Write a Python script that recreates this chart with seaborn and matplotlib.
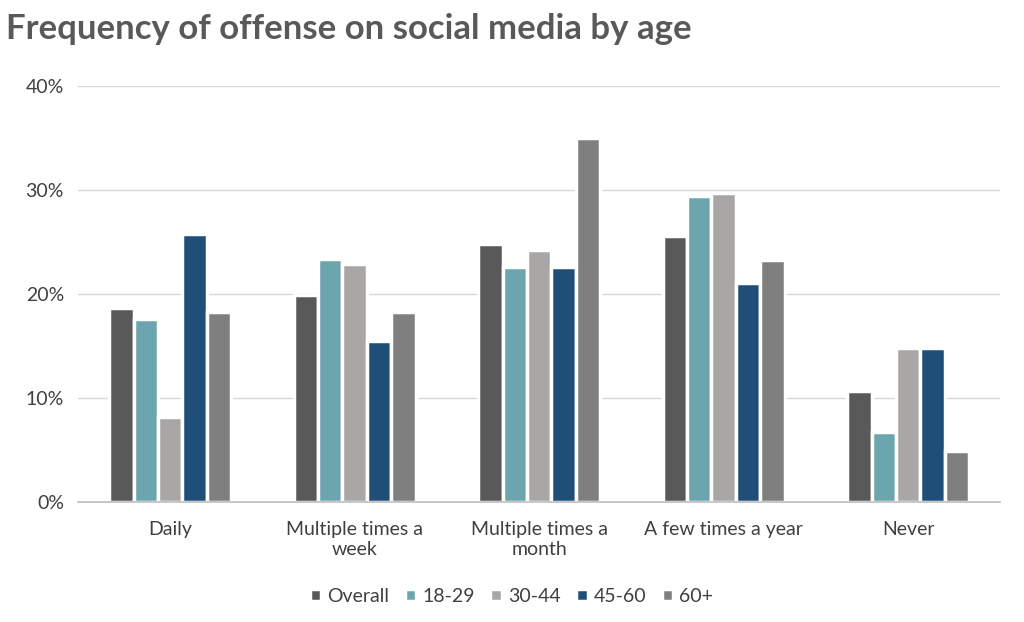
import seaborn as sns
import matplotlib.pyplot as plt
import pandas as pd

categories = ['Daily', 'Multiple times a\nweek', 'Multiple times a\nmonth', 'A few times a year', 'Never']
groups = ['Overall', '18-29', '30-44', '45-60', '60+']
overall = [18.6, 19.9, 24.8, 25.6, 10.7]
age_18_29 = [17.6, 23.4, 22.6, 29.4, 6.7]
age_30_44 = [8.2, 22.9, 24.2, 29.7, 14.8]
age_45_60 = [25.8, 15.5, 22.6, 21.0, 14.8]
age_60 = [18.3, 18.3, 35.0, 23.3, 4.9]
colors = ['#595959', '#6BA5AD', '#A9A6A6', '#1F4E79', '#7F7F7F']

rows = []
for g, vals in zip(groups, [overall, age_18_29, age_30_44, age_45_60, age_60]):
    for c, v in zip(categories, vals):
        rows.append({'cat': c, 'group': g, 'value': v})
df = pd.DataFrame(rows)

sns.set_theme(style='white')
plt.rcParams['font.family'] = ['Lato', 'DejaVu Sans']
fig = plt.figure(figsize=(10.24, 6.22), dpi=100)
ax = fig.add_axes([0.076, 0.193, 0.901, 0.669])
sns.barplot(data=df, x='cat', y='value', hue='group', palette=colors, width=0.66,
            saturation=1, edgecolor='white', linewidth=2.5, ax=ax, legend=True)
ax.set_ylim(0, 40)
ax.set_yticks([0, 10, 20, 30, 40])
ax.set_yticklabels([f'{t}%' for t in [0, 10, 20, 30, 40]], fontsize=14, color='#404040')
ax.tick_params(axis='x', labelsize=14, labelcolor='#404040', length=0, pad=14)
ax.tick_params(axis='y', length=0, pad=10)
ax.grid(axis='y', color='#d9d9d9', linewidth=1)
ax.set_axisbelow(True)
for s in ['top', 'right', 'left']:
    ax.spines[s].set_visible(False)
ax.spines['bottom'].set_color('#bfbfbf')
ax.set_xlabel('')
ax.set_ylabel('')
ax.legend(loc='upper center', bbox_to_anchor=(0.47, -0.165), ncol=5, frameon=False,
          fontsize=14, handlelength=0.6, handleheight=0.6, columnspacing=0.8, handletextpad=0.3,
          labelcolor='#404040')
fig.text(0.006, 0.953, 'Frequency of offense on social media by age', fontsize=25,
         fontweight='bold', color='#595959', va='center')
fig.savefig('out.png')
